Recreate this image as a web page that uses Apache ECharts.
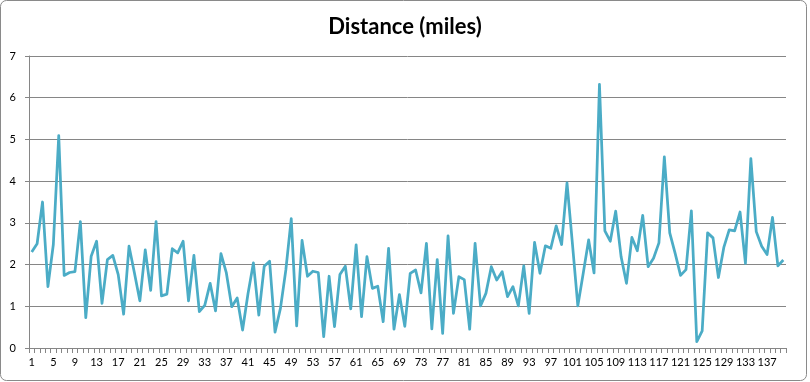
<!DOCTYPE html>
<html>
<head>
<meta charset="utf-8">
<script src="https://cdn.jsdelivr.net/npm/echarts@6/dist/echarts.min.js"></script>
<style>
html,body{margin:0;padding:0;background:#fff;}
#chart{width:810px;height:382px;}
</style>
</head>
<body>
<div id="chart"></div>
<script>
const titleText = 'Distance (miles)';
const categories = [
  '1','2','3','4','5','6','7','8','9','10','11','12','13','14','15','16','17','18','19','20',
  '21','22','23','24','25','26','27','28','29','30','31','32','33','34','35','36','37','38','39','40',
  '41','42','43','44','45','46','47','48','49','50','51','52','53','54','55','56','57','58','59','60',
  '61','62','63','64','65','66','67','68','69','70','71','72','73','74','75','76','77','78','79','80',
  '81','82','83','84','85','86','87','88','89','90','91','92','93','94','95','96','97','98','99','100',
  '101','102','103','104','105','106','107','108','109','110','111','112','113','114','115','116','117','118','119','120',
  '121','122','123','124','125','126','127','128','129','130','131','132','133','134','135','136','137','138','139','140'
];
const distance = [
  2.30,2.50,3.50,1.47,2.48,5.09,1.74,1.81,1.83,3.03,
  0.73,2.20,2.56,1.07,2.12,2.22,1.76,0.81,2.44,1.80,
  1.13,2.35,1.38,3.03,1.25,1.29,2.38,2.28,2.56,1.13,
  2.22,0.87,1.02,1.55,0.89,2.26,1.80,0.99,1.20,0.43,
  1.30,2.04,0.79,1.96,2.08,0.38,0.95,1.87,3.10,0.53,
  2.58,1.72,1.84,1.81,0.27,1.72,0.51,1.76,1.96,0.94,
  2.47,0.75,2.19,1.43,1.48,0.63,2.39,0.45,1.28,0.52,
  1.79,1.87,1.32,2.51,0.46,2.12,0.35,2.69,0.83,1.71,
  1.64,0.45,2.51,1.01,1.31,1.95,1.63,1.83,1.23,1.47,
  1.01,1.97,0.83,2.53,1.79,2.45,2.39,2.93,2.48,3.96,
  2.50,1.01,1.79,2.59,1.80,6.32,2.81,2.56,3.28,2.19,
  1.55,2.65,2.33,3.18,1.95,2.15,2.52,4.58,2.76,2.27,
  1.74,1.88,3.29,0.15,0.41,2.76,2.64,1.69,2.41,2.83,
  2.81,3.26,2.03,4.54,2.79,2.44,2.24,3.13,1.97,2.11
];
const yMin = 0, yMax = 7, yStep = 1;

const chart = echarts.init(document.getElementById('chart'), null, {renderer:'canvas'});
chart.setOption({
  animation: false,
  backgroundColor: '#ffffff',
  title: {
    text: titleText,
    left: 'center',
    top: 11,
    textStyle: {fontFamily: 'Lato', fontWeight: 'bold', fontSize: 22, color: '#000'}
  },
  graphic: [{
    type: 'rect',
    shape: {x: 0.5, y: 0.5, width: 806, height: 380, r: 6},
    style: {fill: 'none', stroke: '#8a8a8a', lineWidth: 1},
    silent: true
  }],
  grid: {left: 29, right: 24, top: 56, bottom: 34, containLabel: false},
  xAxis: {
    type: 'category',
    data: categories,
    boundaryGap: true,
    axisLine: {lineStyle: {color: '#868686', width: 1}},
    axisTick: {show: true, interval: 0, length: 5, lineStyle: {color: '#868686'}},
    axisLabel: {interval: 3, margin: 9, fontFamily: 'Lato', fontSize: 11, color: '#000', hideOverlap: false},
    splitLine: {show: false}
  },
  yAxis: {
    type: 'value',
    min: yMin, max: yMax, interval: yStep,
    axisLine: {show: true, lineStyle: {color: '#868686', width: 1}},
    axisTick: {show: true, length: 4, lineStyle: {color: '#868686'}},
    axisLabel: {margin: 13, fontFamily: 'Lato', fontSize: 11, color: '#000'},
    splitLine: {show: true, lineStyle: {color: '#868686', width: 1}}
  },
  series: [{
    type: 'line',
    data: distance,
    showSymbol: false,
    symbol: 'none',
    lineStyle: {color: '#4BACC6', width: 2.75, join: 'round'},
    itemStyle: {color: '#4BACC6'}
  }]
});
</script>
</body>
</html>
